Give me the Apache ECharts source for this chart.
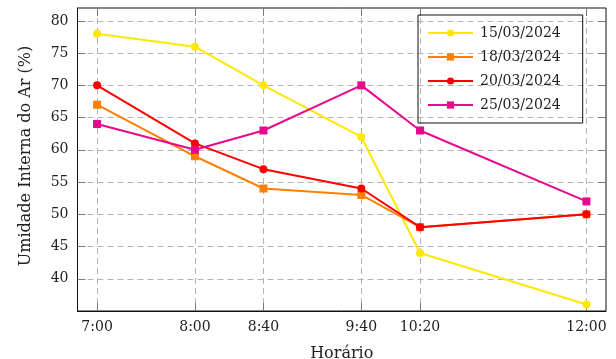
<!DOCTYPE html>
<html>
<head>
<meta charset="utf-8">
<script src="https://cdn.jsdelivr.net/npm/echarts@6/dist/echarts.min.js"></script>
<style>
  html, body { margin: 0; padding: 0; background: #fff; }
  #chart { width: 616px; height: 359px; }
</style>
</head>
<body>
<div id="chart"></div>
<script>
// Hours as decimal positions on the x scale, with their clock labels
const hours = [7, 8, 8.7, 9.7, 10.3, 12];
const hourLabels = ['7:00', '8:00', '8:40', '9:40', '10:20', '12:00'];
const yTicks = [40, 45, 50, 55, 60, 65, 70, 75, 80];

const seriesNames = ['15/03/2024', '18/03/2024', '20/03/2024', '25/03/2024'];
const humidity15 = [78, 76, 70, 62, 44, 36];
const humidity18 = [67, 59, 54, 53, 48, 50];
const humidity20 = [70, 61, 57, 54, 48, 50];
const humidity25 = [64, 60, 63, 70, 63, 52];

const colors = ['#FFE800', '#FF8000', '#FF0000', '#E8088C'];
const symbols = ['circle', 'rect', 'circle', 'rect'];
const values = [humidity15, humidity18, humidity20, humidity25];

const FONT = 'DejaVu Serif';
const TEXT = '#222';

const pair = (ys) => hours.map((h, i) => [h, ys[i]]);
const labelFor = (v) => {
  const i = hours.findIndex(h => Math.abs(h - v) < 1e-6);
  return i >= 0 ? hourLabels[i] : '';
};

const chart = echarts.init(document.getElementById('chart'), null, { renderer: 'canvas' });

const gridLine = { show: true, lineStyle: { color: '#b4b4b4', type: [6, 4], width: 1 } };
const tickStyle = { show: true, inside: true, length: 8, lineStyle: { color: '#7a7a7a', width: 1 } };

chart.setOption({
  animation: false,
  backgroundColor: '#fff',
  grid: {
    left: 77.5, right: 10, top: 8, bottom: 48,
    outerBoundsMode: 'none', containLabel: false,
    show: true, borderColor: '#111', borderWidth: 1, backgroundColor: 'transparent'
  },
  legend: {
    data: seriesNames,
    orient: 'vertical',
    left: 418, top: 15,
    padding: [11, 22, 11, 9],
    itemWidth: 45, itemHeight: 9, itemGap: 10,
    borderColor: '#111', borderWidth: 1, borderRadius: 0,
    textStyle: { fontFamily: FONT, fontSize: 14, color: TEXT, padding: [0, 0, 0, 2] }
  },
  xAxis: [{
    type: 'value', min: 6.8, max: 12.2,
    name: 'Horário', nameLocation: 'middle', nameGap: 35,
    nameTextStyle: { fontFamily: FONT, fontSize: 16, color: TEXT },
    axisLine: { show: true, lineStyle: { color: '#111' } },
    axisTick: Object.assign({ customValues: hours }, tickStyle),
    axisLabel: { customValues: hours, formatter: labelFor, margin: 9,
      fontFamily: FONT, fontSize: 14, color: TEXT },
    splitLine: gridLine
  }, {
    type: 'value', min: 6.8, max: 12.2, position: 'top',
    axisLine: { show: false },
    axisTick: Object.assign({ customValues: hours }, tickStyle),
    axisLabel: { show: false }, splitLine: { show: false }
  }],
  yAxis: [{
    type: 'value', min: 35, max: 82,
    name: 'Umidade Interna do Ar (%)', nameLocation: 'middle', nameGap: 44,
    nameTextStyle: { fontFamily: FONT, fontSize: 16, color: TEXT, padding: [0, 0, 0, 7] },
    axisLine: { show: true, lineStyle: { color: '#111' } },
    axisTick: Object.assign({ customValues: yTicks }, tickStyle),
    axisLabel: { customValues: yTicks, margin: 9,
      fontFamily: FONT, fontSize: 14, color: TEXT },
    splitLine: gridLine
  }, {
    type: 'value', min: 35, max: 82, position: 'right',
    axisLine: { show: false },
    axisTick: Object.assign({ customValues: yTicks }, tickStyle),
    axisLabel: { show: false }, splitLine: { show: false }
  }],
  series: values.map((ys, k) => ({
    name: seriesNames[k],
    type: 'line',
    data: pair(ys),
    symbol: symbols[k],
    symbolSize: 8,
    showAllSymbol: true,
    color: colors[k],
    lineStyle: { width: 2, color: colors[k] },
    itemStyle: { color: colors[k] },
    z: 2 + k
  }))
});
</script>
</body>
</html>
